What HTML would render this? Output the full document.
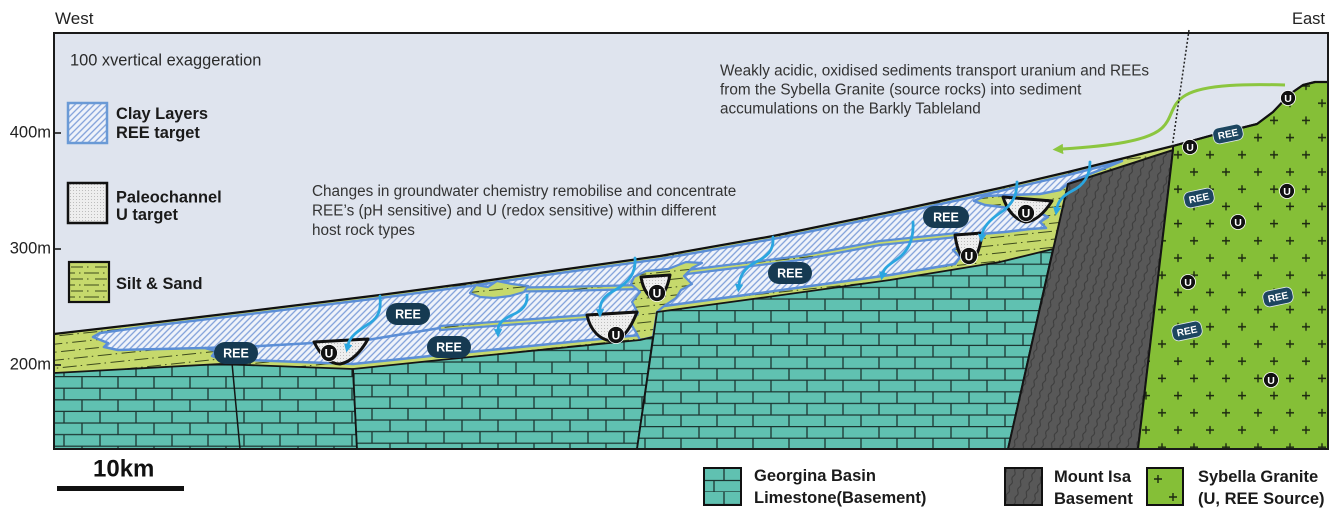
<!DOCTYPE html>
<html><head><meta charset="utf-8">
<style>
html,body{margin:0;padding:0;background:#fff;}
svg{display:block;}
text{font-family:"Liberation Sans",Arial,sans-serif;}
</style></head><body>
<svg width="1340" height="529" viewBox="0 0 1340 529" xmlns="http://www.w3.org/2000/svg">
<defs>
<pattern id="hatch" width="4.5" height="4.5" patternUnits="userSpaceOnUse" patternTransform="rotate(45)">
<rect width="4.5" height="4.5" fill="#eff3fa"/>
<line x1="1" y1="0" x2="1" y2="4.5" stroke="#7f9fd9" stroke-width="1.3"/>
</pattern>
<pattern id="sed" width="24" height="16" patternUnits="userSpaceOnUse" patternTransform="rotate(-6)">
<rect width="24" height="16" fill="#c6d96c"/>
<path d="M0 4H14 M18 4H19.5 M12 12H24 M0 12H2 M6 12H7.5" stroke="#3d4a1c" stroke-width="1.1"/>
</pattern>
<pattern id="sedL" x="69" y="262" width="24" height="12" patternUnits="userSpaceOnUse">
<rect width="24" height="12" fill="#c6d96c"/>
<path d="M2 5H14 M18 5H19.5 M0 11H6 M10 11H11.5 M15 11H24" stroke="#3d4a1c" stroke-width="1.1"/>
</pattern>
<pattern id="br1" x="0" y="376" width="72" height="23.2" patternUnits="userSpaceOnUse">
<rect width="72" height="23.2" fill="#60c1b1"/>
<path d="M0 0.6H72 M0 12.2H72 M10 0V11.6 M46 0V11.6 M28 11.6V23.2 M64 11.6V23.2" stroke="#1c3632" stroke-width="1.3" fill="none"/>
</pattern>
<pattern id="br2" x="20" y="373" width="72" height="23.2" patternUnits="userSpaceOnUse">
<rect width="72" height="23.2" fill="#60c1b1"/>
<path d="M0 0.6H72 M0 12.2H72 M10 0V11.6 M46 0V11.6 M28 11.6V23.2 M64 11.6V23.2" stroke="#1c3632" stroke-width="1.3" fill="none"/>
</pattern>
<pattern id="br3" x="5" y="310" width="72" height="23.2" patternUnits="userSpaceOnUse">
<rect width="72" height="23.2" fill="#60c1b1"/>
<path d="M0 0.6H72 M0 12.2H72 M10 0V11.6 M46 0V11.6 M28 11.6V23.2 M64 11.6V23.2" stroke="#1c3632" stroke-width="1.3" fill="none"/>
</pattern>
<pattern id="brL" x="704" y="468" width="37" height="24" patternUnits="userSpaceOnUse">
<rect width="37" height="24" fill="#60c1b1"/>
<path d="M0 12.5H37 M0 24H37 M20 0V12.5 M10 12.5V24" stroke="#1c3632" stroke-width="1.3" fill="none"/>
</pattern>
<pattern id="mi" width="9" height="18" patternUnits="userSpaceOnUse" patternTransform="rotate(18)">
<rect width="9" height="18" fill="#585858"/>
<path d="M4 0 C7 4.5 1 4.5 4 9 C7 13.5 1 13.5 4 18" stroke="#3a3a3a" stroke-width="1" fill="none"/>
</pattern>
<pattern id="gr" x="1170" y="249.4" width="32" height="34.4" patternUnits="userSpaceOnUse">
<rect width="32" height="34.4" fill="#85bf37"/>
<path d="M4 8.6H12 M8 4.6V12.6 M20 25.8H28 M24 21.8V29.8" stroke="#1d2a10" stroke-width="1.4"/>
</pattern>
<pattern id="dots" width="3" height="3" patternUnits="userSpaceOnUse">
<rect width="3" height="3" fill="#eeeeee"/>
<rect x="1" y="1" width="1" height="1" fill="#bdbdbd"/>
</pattern>
<marker id="ab" viewBox="0 0 10 10" refX="1" refY="5" markerWidth="3" markerHeight="3" orient="auto" markerUnits="strokeWidth">
<path d="M0 0L10 5L0 10z" fill="#2aa6e0"/>
</marker>
<marker id="ag" viewBox="0 0 10 10" refX="1" refY="5" markerWidth="3.5" markerHeight="3.5" orient="auto" markerUnits="strokeWidth">
<path d="M0 0L10 5L0 10z" fill="#8cc63f"/>
</marker>
</defs>

<!-- sky -->
<rect x="54" y="33" width="1274" height="416" fill="#dfe4ee"/>

<!-- sediment -->
<path d="M54,334 L150,323 L250,311 L380,295 L470,283 L560,270 L660,256 L773,236 L890,212 L1000,188 L1068,172 L1173,146 L1173,150 L1068,184 L1053,249 L1000,262 L890,280 L760,298 L657,312 L653,337 L640,340 L440,360 L353,369 L220,364 L54,373 Z" fill="url(#sed)"/>

<!-- clay -->
<path d="M93,337 L100,333 L150,326 L250,314 L380,298 L470,286 L560,273 L660,259 L773,239 L890,215 L1000,191 L1068,175 L1122,161 L1100,170 L1072,181 L1060,190 L1040,194 L1010,195 L985,196 L974,201 L985,205 L1010,208 L1038,212 L1048,217 L1040,222 L1046,228 L1030,229 L1005,232 L980,234 L957,238 L962,244 L953,250 L960,257 L955,264 L890,275 L760,293 L657,307 L652,333 L640,335 L440,355 L353,364 L220,359 L212,356 L216,351 L205,348 L118,350 L104,347 L108,343 Z" fill="url(#hatch)" stroke="#5b8ed6" stroke-width="2.5" stroke-linejoin="round"/>

<!-- yellow overlays -->
<g fill="url(#sed)" stroke="#5b8ed6" stroke-width="2.2" stroke-linejoin="round">
<path d="M478,288 L560,287 L640,285 L687,270 L800,256 L880,241 L957,233 L957,237 L880,245 L800,260 L687,274 L640,289 L560,291 L478,292 Z"/>
<path d="M440,326 L520,320 L587,315 L587,319 L520,324 L440,330 Z"/>
<path d="M470,293 L476,285 L488,287 L497,281 L512,284 L528,286 L524,292 L510,296 L494,298 L480,297 Z"/>
<path d="M634,277 L646,271 L668,269 L686,262 L702,263 L692,268 L684,276 L692,284 L681,290 L676,298 L664,306 L657,312 L653,337 L640,340 L637,334 L631,324 L638,313 L632,302 L640,292 L631,284 Z"/>
</g>
<polyline points="205,348 260,346 313,343 367,340 440,328" fill="none" stroke="#5b8ed6" stroke-width="2.5"/>

<!-- limestone -->
<g stroke="#151515" stroke-width="1.8" stroke-linejoin="round">
<path d="M54,373 L220,364 L353,369 L357,449 L54,449 Z" fill="url(#br1)"/>
<path d="M353,369 L440,360 L640,340 L653,337 L637,449 L357,449 Z" fill="url(#br2)"/>
<path d="M657,312 L760,298 L890,280 L1000,262 L1053,249 L1008,449 L637,449 Z" fill="url(#br3)"/>
</g>
<line x1="232" y1="363" x2="240" y2="449" stroke="#151515" stroke-width="1.5"/>

<!-- Mount Isa -->
<path d="M1068,184 L1173,150 L1138,449 L1008,449 Z" fill="url(#mi)" stroke="#151515" stroke-width="2"/>
<!-- Granite -->
<path d="M1173,146 L1213,135 L1257,124 L1273,112 L1290,94 L1303,85 L1315,82 L1328,82 L1328,449 L1138,449 L1173,150 Z" fill="url(#gr)" stroke="#151515" stroke-width="2"/>

<!-- surface -->
<polyline points="54,334 150,323 250,311 380,295 470,283 560,270 660,256 773,236 890,212 1000,188 1068,172 1173,146 1213,135 1257,124 1273,112 1290,94 1303,85 1315,82 1328,82" fill="none" stroke="#111" stroke-width="2.2" stroke-linejoin="round"/>

<!-- U channels -->
<g fill="url(#dots)" stroke="#111" stroke-width="3" stroke-linejoin="round">
<path d="M314,342 L368,339 C362,350 352,362 340,364 C330,364 321,356 314,342 Z"/>
<path d="M587,315 L637,312 C632,325 625,338 614,341 C600,341 590,330 587,315 Z"/>
<path d="M641,277 L670,275 C668,285 664,296 657,300 C650,300 643,290 641,277 Z"/>
<path d="M955,235 L982,233 C981,245 977,258 970,263 C962,262 957,250 955,235 Z"/>
<path d="M1003,197 L1052,201 C1045,212 1036,221 1026,222 C1015,220 1007,210 1003,197 Z"/>
</g>

<!-- blue arrows -->
<g fill="none" stroke="#2aa6e0" stroke-width="2.8" stroke-linecap="round" marker-end="url(#ab)">
<path d="M380,296 C381,308 380,316 370,323 C358,331 350,336 348,345"/>
<path d="M527,295 C528,305 522,311 512,315 C502,320 498,324 498,330"/>
<path d="M635,258 C636,272 630,282 615,290 C604,296 600,302 600,310"/>
<path d="M773,237 C774,250 768,256 756,262 C744,268 740,276 739,285"/>
<path d="M913,222 C914,240 908,252 896,260 C887,266 884,269 883,273"/>
<path d="M1017,182 C1017,196 1012,205 1000,213 C988,221 983,228 982,235"/>
<path d="M1090,162 C1090,176 1084,185 1072,191 C1062,196 1058,202 1057,208"/>
</g>

<!-- green arrow -->
<path d="M1285,85 C1250,84 1205,84 1186,95 C1170,104 1173,118 1162,128 C1148,141 1110,146 1062,149" fill="none" stroke="#8cc63f" stroke-width="3" marker-end="url(#ag)"/>

<!-- dotted line -->
<line x1="1189" y1="30" x2="1172" y2="148" stroke="#222" stroke-width="1.5" stroke-dasharray="2 2"/>

<!-- U badges -->
<g font-weight="bold" font-size="12" fill="#fff" text-anchor="middle">
<circle cx="329" cy="353" r="8.5" fill="#111" stroke="#fff" stroke-width="0.8"/><text x="329" y="357.5">U</text>
<circle cx="616" cy="335" r="8.5" fill="#111" stroke="#fff" stroke-width="0.8"/><text x="616" y="339.5">U</text>
<circle cx="657" cy="293" r="8.5" fill="#111" stroke="#fff" stroke-width="0.8"/><text x="657" y="297.5">U</text>
<circle cx="969" cy="256" r="8.5" fill="#111" stroke="#fff" stroke-width="0.8"/><text x="969" y="260.5">U</text>
<circle cx="1026" cy="213" r="8.5" fill="#111" stroke="#fff" stroke-width="0.8"/><text x="1026" y="217.5">U</text>
</g>
<g font-weight="bold" font-size="10.5" fill="#fff" text-anchor="middle">
<circle cx="1288" cy="98" r="7.5" fill="#111" stroke="#fff" stroke-width="0.8"/><text x="1288" y="101.8">U</text>
<circle cx="1190" cy="147" r="7.5" fill="#111" stroke="#fff" stroke-width="0.8"/><text x="1190" y="150.8">U</text>
<circle cx="1287" cy="191" r="7.5" fill="#111" stroke="#fff" stroke-width="0.8"/><text x="1287" y="194.8">U</text>
<circle cx="1238" cy="222" r="7.5" fill="#111" stroke="#fff" stroke-width="0.8"/><text x="1238" y="225.8">U</text>
<circle cx="1188" cy="282" r="7.5" fill="#111" stroke="#fff" stroke-width="0.8"/><text x="1188" y="285.8">U</text>
<circle cx="1271" cy="380" r="7.5" fill="#111" stroke="#fff" stroke-width="0.8"/><text x="1271" y="383.8">U</text>
</g>

<!-- REE badges -->
<g font-weight="bold" font-size="12.5" fill="#fff" text-anchor="middle">
<rect x="214" y="342" width="44" height="22" rx="11" fill="#163a52"/><text x="236" y="357.5">REE</text>
<rect x="386" y="303" width="44" height="22" rx="11" fill="#163a52"/><text x="408" y="318.5">REE</text>
<rect x="427" y="336" width="44" height="22" rx="11" fill="#163a52"/><text x="449" y="351.5">REE</text>
<rect x="768" y="262" width="44" height="22" rx="11" fill="#163a52"/><text x="790" y="277.5">REE</text>
<rect x="923" y="206" width="46" height="22" rx="11" fill="#163a52"/><text x="946" y="221.5">REE</text>
</g>
<g font-weight="bold" font-size="10" fill="#fff" text-anchor="middle">
<g transform="rotate(-12 1228 134)"><rect x="1213" y="126" width="30" height="16" rx="6" fill="#1d4660" stroke="#e0e8f0" stroke-width="0.8"/><text x="1228" y="137.5">REE</text></g>
<g transform="rotate(-12 1199 198)"><rect x="1184" y="190" width="30" height="16" rx="6" fill="#1d4660" stroke="#e0e8f0" stroke-width="0.8"/><text x="1199" y="201.5">REE</text></g>
<g transform="rotate(-12 1278 297)"><rect x="1263" y="289" width="30" height="16" rx="6" fill="#1d4660" stroke="#e0e8f0" stroke-width="0.8"/><text x="1278" y="300.5">REE</text></g>
<g transform="rotate(-12 1187 331)"><rect x="1172" y="323" width="30" height="16" rx="6" fill="#1d4660" stroke="#e0e8f0" stroke-width="0.8"/><text x="1187" y="334.5">REE</text></g>
</g>

<!-- frame -->
<rect x="54" y="33" width="1274" height="416" fill="none" stroke="#1a1a1a" stroke-width="2"/>
<g stroke="#1a1a1a" stroke-width="1.6">
<line x1="54" y1="133" x2="61" y2="133"/>
<line x1="54" y1="249" x2="61" y2="249"/>
<line x1="54" y1="365" x2="61" y2="365"/>
</g>

<!-- axis labels -->
<g font-size="16.5" fill="#222" text-anchor="end">
<text x="51" y="137.5">400m</text>
<text x="51" y="253.5">300m</text>
<text x="51" y="369.5">200m</text>
</g>
<text x="55" y="24" font-size="17" fill="#222">West</text>
<text x="1292" y="24" font-size="16.5" fill="#222">East</text>

<text x="70" y="65.5" font-size="16.4" fill="#2a2a2a">100 xvertical exaggeration</text>

<!-- legend left -->
<rect x="68" y="103" width="39" height="40" fill="url(#hatch)" stroke="#6a9ad6" stroke-width="2.5"/>
<rect x="68" y="183" width="39" height="40" fill="url(#dots)" stroke="#111" stroke-width="2.5"/>
<rect x="69" y="262" width="40" height="40" fill="url(#sedL)" stroke="#111" stroke-width="2.2"/>
<g font-size="16.4" font-weight="bold" fill="#1a1a1a">
<text x="116" y="119">Clay Layers</text>
<text x="116" y="138">REE target</text>
<text x="116" y="202.5">Paleochannel</text>
<text x="116" y="220">U target</text>
<text x="116" y="289">Silt &amp; Sand</text>
</g>

<!-- annotation texts -->
<g font-size="15.3" fill="#333">
<text x="312" y="196">Changes in groundwater chemistry remobilise and concentrate</text>
<text x="312" y="215.5">REE’s (pH sensitive) and U (redox sensitive) within different</text>
<text x="312" y="235">host rock types</text>
<text x="720" y="75.5">Weakly acidic, oxidised sediments transport uranium and REEs</text>
<text x="720" y="94.5">from the Sybella Granite (source rocks) into sediment</text>
<text x="720" y="113.5">accumulations on the Barkly Tableland</text>
</g>

<!-- scale bar -->
<text x="93" y="476.5" font-size="24" font-weight="bold" fill="#111">10km</text>
<rect x="57" y="486" width="127" height="5" fill="#111"/>

<!-- bottom legend -->
<rect x="704" y="468" width="37" height="37" fill="url(#brL)" stroke="#111" stroke-width="2"/>
<rect x="1005" y="468" width="37" height="37" fill="url(#mi)" stroke="#111" stroke-width="2"/>
<rect x="1147" y="468" width="36" height="37" fill="#85bf37" stroke="#111" stroke-width="2"/>
<path d="M1154 479H1162 M1158 475V483 M1169 497H1177 M1173 493V501" stroke="#1d2a10" stroke-width="1.4"/>
<g font-size="16.5" font-weight="bold" fill="#1a1a1a">
<text x="754" y="481">Georgina Basin</text>
<text x="754" y="503">Limestone(Basement)</text>
<text x="1054" y="482">Mount Isa</text>
<text x="1054" y="504">Basement</text>
<text x="1198" y="482">Sybella Granite</text>
<text x="1198" y="504">(U, REE Source)</text>
</g>
</svg>
</body></html>
